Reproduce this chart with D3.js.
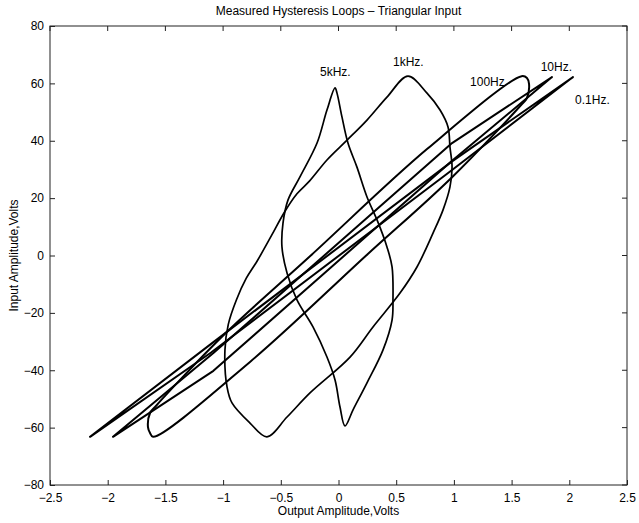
<!DOCTYPE html>
<html>
<head>
<meta charset="utf-8">
<script src="https://cdn.jsdelivr.net/npm/d3@7"></script>
<style>
  html, body { margin: 0; padding: 0; background: #fff; overflow: hidden; }
  svg { display: block; }
  text { font-family: 'Liberation Sans', Arial, sans-serif; fill: #000; }
  .tick text { font-size: 12px; }
  .axis-label { font-size: 12px; }
  .title { font-size: 12px; }
  .loop-label { font-size: 12px; }
</style>
</head>
<body>
<svg width="639" height="523"></svg>
<script>
const xTicks = [-2.5, -2, -1.5, -1, -0.5, 0, 0.5, 1, 1.5, 2, 2.5];
const yTicks = [-80, -60, -40, -20, 0, 20, 40, 60, 80];

// loops: [output volts, input volts]
const loop5kHz = [
  [-0.030, 58.4], [-0.100, 50.7], [-0.186, 39.2], [-0.334, 27.4], [-0.438, 19.3],
  [-0.481, 11.3], [-0.490, 3.0], [-0.446, -6.1], [-0.360, -15.5], [-0.221, -24.9],
  [-0.100, -35.4], [-0.030, -43.4], [0.013, -52.8], [0.056, -59.4],
  [0.126, -53.8], [0.247, -44.4], [0.386, -32.9], [0.464, -22.5], [0.472, -15.5],
  [0.464, -4.0], [0.420, 3.0], [0.334, 12.4], [0.247, 20.4], [0.160, 30.8],
  [0.082, 39.2], [0.030, 48.3], [-0.013, 56.6]
];

const loop1kHz = [
  [0.602, 62.5], [0.767, 56.6], [0.880, 50.7], [0.949, 44.8], [0.966, 37.8],
  [0.984, 30.8], [0.966, 23.9], [0.906, 15.9], [0.819, 7.8], [0.680, -4.0],
  [0.533, -13.1], [0.299, -24.9], [0.100, -35.4], [-0.247, -47.9], [-0.446, -56.3],
  [-0.620, -63.2], [-0.767, -58.4], [-0.923, -51.4], [-0.966, -45.8], [-0.984, -32.9],
  [-0.955, -24.0], [-0.885, -15.5], [-0.800, -8.0], [-0.706, -2.0], [-0.580, 7.0],
  [-0.470, 15.0], [-0.360, 21.5], [-0.250, 26.0], [-0.100, 33.3], [0.074, 40.2],
  [0.247, 47.2], [0.420, 55.2]
];

const loop100Hz = [
  [-1.607, -63.2], [-0.767, -37.1], [0.240, 0], [0.984, 27.3], [1.590, 52.8],
  [1.633, 54.9], [1.651, 59.8], [1.633, 61.9], [1.587, 62.5], [0.767, 37.1],
  [-0.240, 0], [-0.984, -27.3], [-1.590, -52.8], [-1.633, -54.9], [-1.651, -59.8],
  [-1.633, -61.9]
];

const loop10Hz = [
  [-1.954, -63.2], [-1.084, -40.2], [0.984, 33.0], [1.850, 62.2],
  [0.984, 39.2], [-1.084, -34.0]
];

const loop01Hz = [
  [-2.153, -63.2], [-1.104, -33.8], [0.984, 29.8], [2.032, 62.2],
  [0.984, 32.8], [-1.104, -30.8]
];

const loops = [loop5kHz, loop1kHz, loop100Hz, loop10Hz, loop01Hz];
const smoothLoops = [true, true, true, false, false];

const loopLabels = ['5kHz.', '1kHz.', '100Hz', '10Hz.', '0.1Hz.'];
const labelPos = [[-0.16, 62.5], [0.472, 66], [1.14, 59.1], [1.752, 64.3], [2.05, 52.8]];

const title = 'Measured Hysteresis Loops \u2013 Triangular Input';
const xLabel = 'Output Amplitude,Volts';
const yLabel = 'Input Amplitude,Volts';

const margin = { left: 50, right: 12, top: 26, bottom: 38 };

const svg = d3.select('svg');
const width = +svg.attr('width');
const height = +svg.attr('height');
const innerWidth = width - margin.left - margin.right;
const innerHeight = height - margin.top - margin.bottom;

const g = svg.append('g')
  .attr('transform', `translate(${margin.left},${margin.top})`);

const xScale = d3.scaleLinear().domain([-2.5, 2.5]).range([0, innerWidth]);
const yScale = d3.scaleLinear().domain([-80, 80]).range([innerHeight, 0]);

const fmt = d => d3.format('')(d).replace('-', '\u2212');

g.append('g')
  .attr('transform', `translate(0,${innerHeight})`)
  .call(d3.axisBottom(xScale).tickValues(xTicks).tickFormat(fmt).tickSizeInner(-5).tickSizeOuter(0).tickPadding(8))
  .call(a => a.select('.domain').remove());

g.append('g')
  .call(d3.axisLeft(yScale).tickValues(yTicks).tickFormat(fmt).tickSizeInner(-5).tickSizeOuter(0).tickPadding(6))
  .call(a => a.select('.domain').remove());

// inward ticks on the top and right edges, no labels
g.append('g').selectAll('line').data(xTicks)
  .enter().append('line')
  .attr('x1', d => xScale(d)).attr('x2', d => xScale(d))
  .attr('y1', 0).attr('y2', 5)
  .attr('stroke', '#222');

g.append('g').selectAll('line').data(yTicks)
  .enter().append('line')
  .attr('x1', innerWidth).attr('x2', innerWidth - 5)
  .attr('y1', d => yScale(d)).attr('y2', d => yScale(d))
  .attr('stroke', '#222');

g.selectAll('.tick line').attr('stroke', '#222');

g.append('rect')
  .attr('width', innerWidth)
  .attr('height', innerHeight)
  .attr('fill', 'none')
  .attr('stroke', '#222')
  .attr('stroke-width', 1);

const smoothLine = d3.line()
  .x(d => xScale(d[0]))
  .y(d => yScale(d[1]))
  .curve(d3.curveCatmullRomClosed.alpha(0.5));

const sharpLine = d3.line()
  .x(d => xScale(d[0]))
  .y(d => yScale(d[1]))
  .curve(d3.curveLinearClosed);

g.selectAll('.loop').data(loops)
  .enter().append('path')
  .attr('class', 'loop')
  .attr('d', (d, i) => smoothLoops[i] ? smoothLine(d) : sharpLine(d))
  .attr('fill', 'none')
  .attr('stroke', '#000')
  .attr('stroke-width', (d, i) => i < 2 ? 1.7 : 2)
  .attr('stroke-linejoin', 'round');

g.selectAll('.loop-label').data(loopLabels)
  .enter().append('text')
  .attr('class', 'loop-label')
  .attr('x', (d, i) => xScale(labelPos[i][0]))
  .attr('y', (d, i) => yScale(labelPos[i][1]))
  .text(d => d);

svg.append('text')
  .attr('class', 'title')
  .attr('x', margin.left + innerWidth / 2)
  .attr('y', 15)
  .attr('text-anchor', 'middle')
  .text(title);

svg.append('text')
  .attr('class', 'axis-label')
  .attr('x', margin.left + innerWidth / 2)
  .attr('y', 515)
  .attr('text-anchor', 'middle')
  .text(xLabel);

svg.append('text')
  .attr('class', 'axis-label')
  .attr('transform', `translate(18,${margin.top + innerHeight / 2}) rotate(-90)`)
  .attr('text-anchor', 'middle')
  .text(yLabel);
</script>
</body>
</html>
